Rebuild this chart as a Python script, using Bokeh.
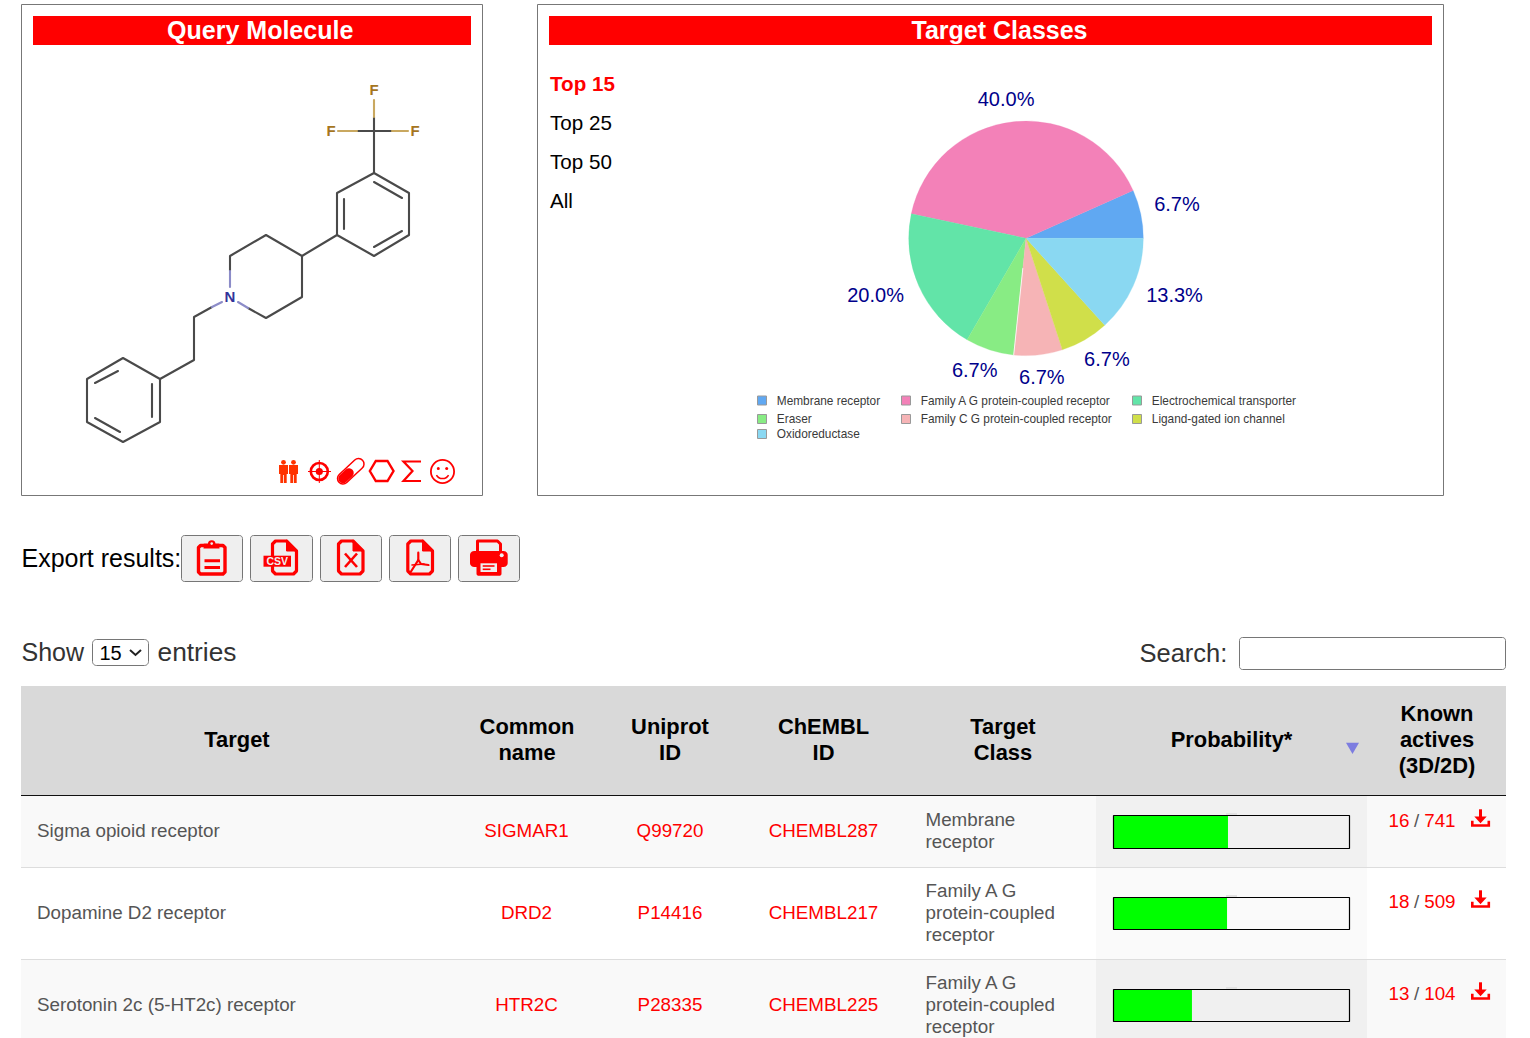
import math
from bokeh.plotting import figure
from bokeh.models import Range1d, ColumnDataSource
from bokeh.core.properties import value
from bokeh.embed import file_html
from bokeh.resources import INLINE

# ---- chart values ----
pie_classes = ["Membrane receptor", "Family A G protein-coupled receptor", "Electrochemical transporter",
               "Eraser", "Family C G protein-coupled receptor", "Ligand-gated ion channel", "Oxidoreductase"]
pie_shares = [6.7, 40.0, 20.0, 6.7, 6.7, 6.7, 13.3]
pie_colors = ["#60a8f2", "#f381b8", "#62e4a8", "#88ec84", "#f6b4b6", "#d0df4a", "#8ad8f2"]
top_options = ["Top 15", "Top 25", "Top 50", "All"]
target_names = ["Sigma opioid receptor", "Dopamine D2 receptor", "Serotonin 2c (5-HT2c) receptor"]
common_names = ["SIGMAR1", "DRD2", "HTR2C"]
uniprot_ids = ["Q99720", "P14416", "P28335"]
chembl_ids = ["CHEMBL287", "CHEMBL217", "CHEMBL225"]
target_classes = [["Membrane", "receptor"], ["Family A G", "protein-coupled", "receptor"],
                  ["Family A G", "protein-coupled", "receptor"]]
probabilities = [0.484, 0.48, 0.331]
actives_3d = [16, 18, 13]
actives_2d = [741, 509, 104]

# molecule drawing
atom_bonds_dark = [
    [(374, 117), (374, 131)], [(357, 131), (392, 131)], [(374, 131), (374, 173)],
    [(374, 173), (409, 193), (409, 235), (374, 256), (337, 235), (337, 193), (374, 173)],
    [(374, 182), (402, 198)], [(344, 199), (344, 229)], [(374, 247), (402, 231)],
    [(337, 235), (302, 256)], [(230, 271), (230, 256), (266, 235), (302, 256), (302, 297), (266, 318), (248, 308)],
    [(212, 307), (194, 317), (194, 360), (160, 379)],
    [(160, 379), (160, 422), (123, 442), (87, 422), (87, 379), (123, 358), (160, 379)],
    [(152, 384), (152, 417)], [(95, 383), (118, 371)], [(95, 418), (120, 432)],
]
atom_bonds_gold = [[(374, 117), (374, 100)], [(357, 131), (338, 131)], [(392, 131), (408, 131)]]
atom_bonds_blue = [[(230, 271), (230, 287)], [(238, 302), (248, 308)], [(222, 302), (212, 307)]]
atom_labels = [("F", 374, 90, "#a5761e"), ("F", 331, 131, "#a5761e"), ("F", 415, 131, "#a5761e"), ("N", 230, 297, "#33339a")]

# ---- page ----
W, H = 1530, 1038
# Bokeh paints with a half-pixel translate; the half-pixel range cancels it
p = figure(width=W, height=H, output_backend="svg", toolbar_location=None,
           x_range=Range1d(0.5, W + 0.5), y_range=Range1d(H + 0.5, 0.5), min_border=0,
           outline_line_color=None, background_fill_color="white")
p.axis.visible = False
p.grid.visible = False
FONT = value("Liberation Sans")


def box(l, r, t, b, fill="white", line=None, lw=1, radius=0):
    if radius:
        xs, ys = [], []
        corners = [(r - radius, t + radius, -90), (r - radius, b - radius, 0),
                   (l + radius, b - radius, 90), (l + radius, t + radius, 180)]
        for cx, cy, a0 in corners:
            for k in range(7):
                a = math.radians(a0 + 15 * k)
                xs.append(cx + radius * math.cos(a))
                ys.append(cy + radius * math.sin(a))
    else:
        xs, ys = [l, r, r, l], [t, t, b, b]
    p.patch(xs, ys, fill_color=fill, line_color=line, line_width=lw)


def txt(x, y, s, size, color="#000000", align="left", bold=False, font=FONT):
    p.text(x=[x - 1.5], y=[y - 0.5], text=[s], text_font=font, text_font_size=f"{size}px", text_color=color,
           text_align=align, text_baseline="middle", text_font_style="bold" if bold else "normal")


def poly(pts, color="#ff0000", lw=2.0, cap="round", join="round"):
    p.line([a for a, _ in pts], [b for _, b in pts], line_color=color, line_width=lw,
           line_cap=cap, line_join=join)


# panels
box(21.5, 482.5, 4.5, 495.5, line="#777777")
box(537.5, 1443.5, 4.5, 495.5, line="#777777")
box(33, 471, 16, 45, fill="#ff0000")
box(549, 1432, 16, 45, fill="#ff0000")
txt(261.7, 30.5, "Query Molecule", 25, "white", "center", True)
txt(1001, 30.5, "Target Classes", 25, "white", "center", True)

# molecule
for seg in atom_bonds_dark:
    poly(seg, "#4a4a4a", 2.1)
for seg in atom_bonds_gold:
    poly(seg, "#c9a860", 2.1)
for seg in atom_bonds_blue:
    poly(seg, "#8c8cc8", 2.1)
for s, x, y, c in atom_labels:
    txt(x + 1.5, y, s, 15, c, "center", True)

# molecule icons
for cx in (283.5, 293.5):
    p.circle(x=[cx], y=[462.3], radius=2.4, fill_color="#ff3300", line_color=None)
    box(cx - 4.5, cx + 4.5, 465, 474, fill="#ff3300")
    box(cx - 3.2, cx + 3.2, 474, 483, fill="#ff3300")
    p.segment(x0=[cx], y0=[475], x1=[cx], y1=[483], line_color="white", line_width=0.8)
p.circle(x=[319.3], y=[471.5], radius=8.5, fill_color=None, line_color="#ff0000", line_width=2.6)
p.circle(x=[319.3], y=[471.5], radius=3.6, fill_color="#ff0000", line_color=None)
poly([(308, 471.5), (331, 471.5)], lw=1, cap="butt")
poly([(319.3, 460), (319.3, 483)], lw=1, cap="butt")
poly([(343, 478.5), (358.5, 464)], "#ff0000", 12.5)
poly([(343, 478.5), (358.5, 464)], "white", 9.5)
poly([(343, 478.5), (349, 473)], "#ff0000", 9.5)
poly([(369.8, 471), (375.8, 461), (387.5, 461), (393.5, 471), (387.5, 481), (375.8, 481), (369.8, 471)], lw=2.4, join="miter")
poly([(421, 461.5), (403.5, 461.5), (412.5, 471), (403.5, 481), (421, 481)], lw=2.2, join="miter", cap="butt")
p.circle(x=[442.5], y=[471.5], radius=11.6, fill_color=None, line_color="#ff0000", line_width=1.8)
p.circle(x=[438.3, 446.7], y=[468.5, 468.5], radius=1.5, fill_color="#ff0000", line_color=None)
p.arc(x=[442.5], y=[471.5], radius=7, start_angle=math.radians(210), end_angle=math.radians(330),
      line_color="#ff0000", line_width=1.5)

# top-N selector
for i, s in enumerate(top_options):
    txt(551.5, 83.7 + 39 * i, s, 20.6, "#ff0000" if i == 0 else "#000000", "left", i == 0)

# pie
total = sum(pie_shares)
cum = [0.0]
for v in pie_shares:
    cum.append(cum[-1] + v)
start = [2 * math.pi * c / total for c in cum[:-1]]
end = [2 * math.pi * c / total for c in cum[1:]]
pie = ColumnDataSource(dict(start=start, end=end, color=pie_colors))
PX, PY, PR = 1026, 238.3, 117.3
p.wedge(x=PX, y=PY, radius=PR, start_angle="start", end_angle="end", fill_color="color", line_color="color",
        line_width=0.3, source=pie)
gap = start[4]
p.segment(x0=[PX + 30 * math.cos(gap)], y0=[PY - 30 * math.sin(gap)],
          x1=[PX + PR * math.cos(gap)], y1=[PY - PR * math.sin(gap)], line_color="white", line_width=0.8)
label_dx = [16.7, -5.5, -24.9, -8.7, 1.4, 12, 23]
label_dy = [-6, -2.8, 1.5, 1.5, 1.8, 1.5, 1.5]
mid = [(a + b) / 2 for a, b in zip(start, end)]
p.text(x=[PX + (PR + 20) * math.cos(m) for m in mid], y=[PY - (PR + 20) * math.sin(m) for m in mid],
       text=[f"{v:.1f}%" for v in pie_shares], x_offset=label_dx, y_offset=label_dy,
       text_font=FONT, text_font_size="20px", text_color="#00008b", text_align="center", text_baseline="middle")

# pie legend
leg_col = [757, 901, 1132]
leg_row = [400.5, 419, 434]
for i, (name, col) in enumerate(zip(pie_classes, pie_colors)):
    lx = leg_col[i % 3]
    ly = leg_row[i // 3]
    box(lx + 0.5, lx + 9.5, ly - 4.5, ly + 4.5, fill=col, line="#999999")
    txt(lx + 21.3, ly + 0.5, name, 11.85, "#3a3a3a")

# export row
txt(23, 558.5, "Export results:", 25)
for l, r in [(181.5, 242.5), (250.5, 312.5), (320.5, 381.5), (389.5, 450.5), (458.5, 519.5)]:
    box(l, r, 535.5, 581.5, fill="#efefef", line="#767676", radius=3)


def doc(l, r, t=541, b=574, lw=3.2):
    poly([(r - 10, t), (l + 3, t), (l, t + 3), (l, b - 3), (l + 3, b), (r - 3, b), (r, b - 3), (r, t + 10), (r - 10, t)], lw=lw)
    p.patch([r - 10, r - 10, r], [t, t + 10, t + 10], fill_color="#ff0000", line_color="#ff0000", line_width=1)


# clipboard
poly([(203, 545.5), (200.5, 545.5), (198.5, 547.5), (198.5, 572), (200.5, 574), (223, 574), (225, 572), (225, 547.5), (223, 545.5), (220, 545.5)], lw=3.4)
box(203.5, 219.5, 543.5, 548.5, fill="#ff0000")
p.circle(x=[211.7], y=[544], radius=3.8, fill_color="#ff0000", line_color=None)
p.circle(x=[211.7], y=[543.6], radius=1.3, fill_color="#efefef", line_color=None)
poly([(204.5, 560.7), (220, 560.7)], lw=3, cap="butt")
poly([(204.5, 567.5), (220, 567.5)], lw=3, cap="butt")
# csv
doc(272.5, 296.5)
box(263.5, 291, 555.7, 566.7, fill="#ff0000")
txt(278.7, 561.7, "CSV", 10.5, "#efefef", "center", True)
# xls
doc(338.5, 363)
poly([(345, 553.5), (357, 567)], lw=2.6, cap="butt")
poly([(357, 553.5), (345, 567)], lw=2.6, cap="butt")
# pdf
doc(407.8, 432.5)
poly([(418.3, 552.7), (418.3, 560), (411, 571.5)], lw=2.2)
poly([(418.3, 560), (421, 564), (428.5, 565)], lw=2.2)
poly([(412, 565), (424, 564)], lw=1.6)
# printer
poly([(477.5, 552), (477.5, 541), (497.5, 541), (500.5, 544), (500.5, 552)], lw=3)
box(470, 507.7, 551, 567, fill="#ff0000", radius=4)
box(476.5, 501.5, 561, 575.7, fill="#ff0000", radius=2)
box(480.5, 497, 563.3, 572, fill="#efefef")
poly([(482.7, 566), (494.5, 566)], lw=1.6, cap="butt")
poly([(482.7, 569.3), (490.5, 569.3)], lw=1.6, cap="butt")
p.circle(x=[501.7], y=[555.2], radius=2, fill_color="#efefef", line_color=None)

# table controls
txt(23, 652, "Show", 25, "#333333")
box(92.5, 148.5, 639.5, 665.5, fill="white", line="#767676", radius=4)
txt(101, 653, "15", 20)
poly([(130, 650), (135.5, 655), (141, 650)], "#222222", 2, cap="butt", join="miter")
txt(159, 652, "entries", 26.3, "#333333")
txt(1141, 653, "Search:", 25.5, "#333333")
box(1239.5, 1505.5, 637.5, 669.5, fill="white", line="#767676", radius=3)

# table header
box(21, 1506, 686, 795, fill="#d9d9d9")
for x, y, s in [(238, 740, "Target"), (528, 727, "Common"), (528, 753, "name"), (671, 727, "Uniprot"), (671, 753, "ID"),
                (824.5, 727, "ChEMBL"), (824.5, 753, "ID"), (1004, 727, "Target"), (1004, 753, "Class"),
                (1232.5, 740, "Probability*"), (1438, 714, "Known"), (1438, 740, "actives"), (1438, 766, "(3D/2D)")]:
    txt(x + 0.5, y, s, 21.9, "#000000", "center", True)
p.scatter(x=[1352.5], y=[746.5], marker="inverted_triangle", size=13, fill_color="#7d7de0", line_color=None)

# table rows
row_top = [796, 868, 960]
row_bot = [867, 959, 1040]
row_bg = ["#f9f9f9", "#ffffff", "#f9f9f9"]
sort_bg = ["#f1f1f1", "#fafafa", "#f0f0f0"]
row_mid = [830.5, 912.5, 1004.5]
bar_top = [815.5, 897.5, 989.5]
bar_bot = [848.5, 929.5, 1021.5]
act_y = [821, 902, 994]
GREY = "#555555"
BODY = 18.8
BL, BW = 1114, 235.5
for i in range(len(target_names)):
    box(21, 1506, row_top[i], row_bot[i], fill=row_bg[i])
    box(1096, 1367, row_top[i], row_bot[i], fill=sort_bg[i])
    if i < 2:
        box(21, 1506, row_bot[i], row_bot[i] + 1, fill="#dddddd")
    y = row_mid[i]
    txt(38.5, y, target_names[i], BODY, GREY)
    txt(528, y, common_names[i], BODY, "#ff0000", "center")
    txt(671.5, y, uniprot_ids[i], BODY, "#ff0000", "center")
    txt(825, y, chembl_ids[i], BODY, "#ff0000", "center")
    lines = target_classes[i]
    for j, s in enumerate(lines):
        txt(927, y + (j - (len(lines) - 1) / 2) * 22, s, BODY, GREY)
    # probability bar
    t, b = bar_top[i], bar_bot[i]
    box(1226, 1237, t - 2.5, t - 0.5, fill="#e2e2e2")
    p.quad(left=[BL], right=[BL + probabilities[i] * BW], top=[t], bottom=[b], fill_color="#00ff00", line_color=None)
    box(BL - 0.5, BL + BW, t, b, fill=None, line="#000000", lw=1.2)
    # known actives
    ay = act_y[i]
    txt(1390, ay, str(actives_3d[i]), BODY, "#ff0000")
    txt(1415.5, ay, "/", BODY, GREY)
    txt(1425.7, ay, str(actives_2d[i]), BODY, "#ff0000")
    # download icon
    d = ay - 821
    poly([(1472.3, 820.7 + d), (1472.3, 825.5 + d), (1488.8, 825.5 + d), (1488.8, 820.7 + d)], lw=2.6, cap="butt", join="miter")
    poly([(1480.5, 809.3 + d), (1480.5, 819 + d)], lw=3, cap="butt")
    p.patch([1474.3, 1486.7, 1480.5], [816.5 + d, 816.5 + d, 823.3 + d], fill_color="#ff0000", line_color=None)
box(21, 1506, 795, 796, fill="#111111")

open("out.html", "w").write(file_html(p, INLINE))
